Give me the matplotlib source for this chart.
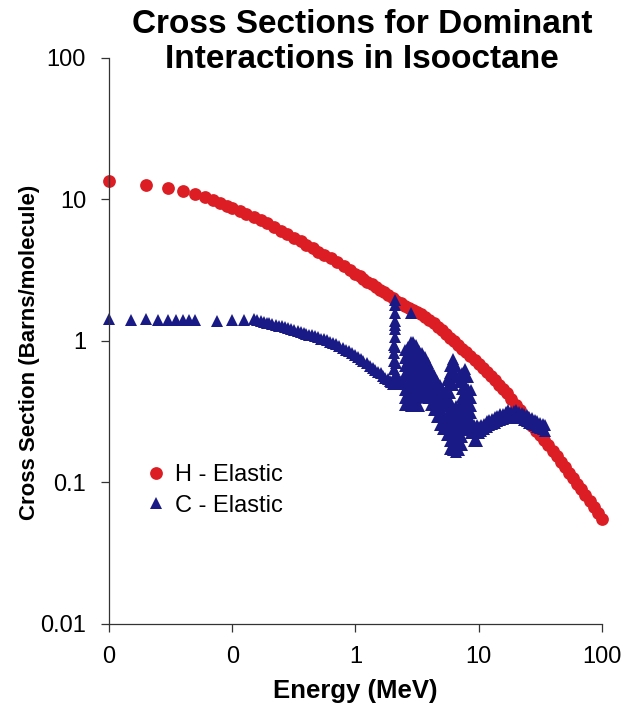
import matplotlib
matplotlib.use('Agg')
import matplotlib.pyplot as plt
from matplotlib.ticker import NullLocator

plt.rcParams['font.family'] = ['Liberation Sans', 'DejaVu Sans']

# H elastic cross section (barns/molecule) vs neutron energy (MeV)
h_energy = [0.01, 0.02, 0.03, 0.04, 0.05, 0.06, 0.07, 0.08, 0.09, 0.10,
            0.115, 0.13, 0.15, 0.17, 0.19, 0.22, 0.25, 0.28, 0.32, 0.36,
            0.40, 0.45, 0.50, 0.56, 0.63, 0.71, 0.80, 0.90,
            1.0, 1.08, 1.16, 1.25, 1.35, 1.46, 1.58, 1.70, 1.84, 2.0,
            2.15, 2.32, 2.5, 2.7, 2.92, 3.15, 3.4, 3.68, 3.97, 4.3,
            4.64, 5.0, 5.4, 5.84, 6.3, 6.8, 7.35, 7.94, 8.57, 9.26,
            10, 10.8, 11.6, 12.5, 13.5, 14.6, 15.8, 17.0, 18.4, 20,
            21.5, 23.2, 25, 27, 29.2, 31.5, 34, 36.8, 39.7, 43,
            46.4, 50, 54, 58.4, 63, 68, 73.5, 79.4, 85.7, 92.6, 100]
h_xs = [13.5, 12.6, 12.0, 11.5, 10.9, 10.4, 9.87, 9.42, 9.06, 8.73,
        8.30, 7.96, 7.52, 7.13, 6.79, 6.37, 6.02, 5.73, 5.37, 5.05,
        4.78, 4.51, 4.29, 4.06, 3.84, 3.61, 3.38, 3.18,
        2.99, 2.87, 2.75, 2.63, 2.52, 2.41, 2.30, 2.21, 2.11, 2.01,
        1.93, 1.85, 1.78, 1.72, 1.65, 1.59, 1.54, 1.48, 1.41, 1.33,
        1.25, 1.19, 1.12, 1.055, 0.994, 0.936, 0.881, 0.830, 0.779, 0.731,
        0.686, 0.644, 0.607, 0.567, 0.529, 0.492, 0.458, 0.428, 0.390, 0.353,
        0.324, 0.296, 0.272, 0.252, 0.233, 0.216, 0.200, 0.184, 0.168, 0.153,
        0.140, 0.128, 0.117, 0.107, 0.0978, 0.0895, 0.0817, 0.0743, 0.0675, 0.0613, 0.0556]

# C elastic below 0.15 MeV (flat)
c_energy_flat = [0.01, 0.015, 0.02, 0.025, 0.03, 0.035, 0.04, 0.045, 0.05, 0.075,
                 0.1, 0.125]
c_xs_flat = [1.42, 1.41, 1.42, 1.41, 1.40, 1.41, 1.40, 1.40, 1.40, 1.39,
             1.40, 1.40]

# C elastic, smooth fall-off up to 2 MeV
c_energy_smooth = [0.15, 0.16, 0.17, 0.18, 0.19, 0.20, 0.21, 0.225, 0.24, 0.255,
                   0.27, 0.285, 0.30, 0.32, 0.34, 0.36, 0.38, 0.40, 0.42, 0.445,
                   0.47, 0.50, 0.53, 0.56, 0.59, 0.625, 0.66, 0.70, 0.74, 0.785,
                   0.83, 0.88, 0.93, 0.985, 1.04, 1.10, 1.16, 1.23, 1.30, 1.375,
                   1.45, 1.525, 1.60, 1.675, 1.75, 1.825, 1.90, 1.95, 2.00]
c_xs_smooth = [1.44, 1.40, 1.38, 1.37, 1.35, 1.34, 1.32, 1.30, 1.28, 1.27,
               1.25, 1.23, 1.21, 1.19, 1.17, 1.155, 1.14, 1.125, 1.11, 1.095,
               1.08, 1.06, 1.04, 1.025, 1.01, 0.99, 0.97, 0.945, 0.92, 0.895,
               0.87, 0.845, 0.82, 0.795, 0.77, 0.745, 0.72, 0.695, 0.67, 0.645,
               0.62, 0.605, 0.59, 0.57, 0.55, 0.535, 0.52, 0.51, 0.50]

# C elastic, 2.08 MeV resonance
c_energy_2mev = [2.05, 2.06, 2.065, 2.07, 2.073, 2.076, 2.078, 2.08, 2.082, 2.084,
                 2.086, 2.09, 2.10, 2.12, 2.15, 2.20, 2.30, 2.40]
c_xs_2mev = [0.55, 0.63, 0.72, 0.82, 0.93, 1.06, 1.21, 1.38, 1.57, 1.79,
             1.95, 1.30, 0.90, 0.70, 0.58, 0.54, 0.52, 0.51]

# C elastic, overlapping resonances 2.4 - 10 MeV: one energy, several values
c_energy_res = [2.43, 2.52, 2.67, 2.82, 2.93, 3.10, 3.27, 3.46, 3.66, 3.87,
                4.10, 4.33, 4.58, 4.85, 5.13, 5.53, 5.85, 6.18, 6.54, 6.92,
                7.31, 7.73, 8.18, 8.65, 9.15, 9.68]
c_xs_res = [
    [0.53, 0.50],
    [0.864, 0.758, 0.668, 0.584, 0.513, 0.451, 0.396, 0.353],
    [0.353, 0.402, 0.458, 0.522, 0.594, 0.676, 0.771, 0.907],
    [1.58, 0.984, 0.850, 0.747, 0.634, 0.557, 0.489, 0.429, 0.377, 0.347],
    [0.347, 0.396, 0.458, 0.522, 0.594, 0.699, 0.823, 0.984],
    [0.937, 0.800, 0.676, 0.584, 0.513, 0.451, 0.396, 0.347],
    [0.347, 0.402, 0.458, 0.522, 0.594, 0.699, 0.850],
    [0.823, 0.699, 0.594, 0.522, 0.458, 0.415],
    [0.415, 0.458, 0.513, 0.584, 0.666, 0.771],
    [0.699, 0.594, 0.513, 0.451, 0.396],
    [0.353, 0.402, 0.458, 0.530, 0.624],
    [0.575, 0.489, 0.429, 0.377, 0.325],
    [0.290, 0.331, 0.377, 0.429, 0.522],
    [0.489, 0.429, 0.377, 0.331, 0.290, 0.255],
    [0.239, 0.272, 0.310, 0.347, 0.402, 0.451],
    [0.530, 0.458, 0.396, 0.347, 0.290, 0.255, 0.217],
    [0.172, 0.196, 0.224, 0.255, 0.290, 0.331, 0.377, 0.429, 0.513, 0.594, 0.666],
    [0.747, 0.634, 0.557, 0.489, 0.331, 0.290, 0.255, 0.224, 0.196, 0.170],
    [0.163, 0.184, 0.210, 0.239, 0.272, 0.310, 0.347, 0.557, 0.666],
    [0.575, 0.513, 0.347, 0.310, 0.272, 0.239, 0.210, 0.184, 0.170],
    [0.184, 0.210, 0.239, 0.272, 0.310, 0.353, 0.402, 0.458, 0.522, 0.594],
    [0.634, 0.557, 0.489, 0.429, 0.377, 0.331, 0.290, 0.255, 0.236],
    [0.245, 0.272, 0.310, 0.353, 0.402, 0.458, 0.557],
    [0.451, 0.396, 0.347, 0.310, 0.272, 0.239, 0.224],
    [0.196, 0.224, 0.255],
    [0.255, 0.224, 0.196],
]

# C elastic, high energy tail (upper and lower edge of the scatter)
c_energy_tail = [10.0, 10.5, 11.0, 11.6, 12.2, 12.8, 13.5, 14.2, 15.0, 15.8,
                 16.6, 17.4, 18.3, 19.2, 20.2, 21.2, 22.3, 23.4, 24.6, 25.8,
                 27.1, 28.5, 29.9, 31.4, 33.0, 34.5]
c_xs_tail_hi = [0.246, 0.253, 0.261, 0.270, 0.277, 0.282, 0.291, 0.296, 0.303, 0.306,
                0.314, 0.324, 0.314, 0.319, 0.324, 0.314, 0.311, 0.303, 0.298, 0.291,
                0.284, 0.277, 0.272, 0.263, 0.259, 0.254]
c_xs_tail_lo = [0.224, 0.231, 0.239, 0.246, 0.253, 0.258, 0.265, 0.270, 0.277, 0.280,
                0.287, 0.296, 0.287, 0.291, 0.296, 0.287, 0.285, 0.277, 0.272, 0.265,
                0.260, 0.253, 0.248, 0.241, 0.237, 0.232]

c_energy = c_energy_flat + c_energy_smooth + c_energy_2mev
c_xs = c_xs_flat + c_xs_smooth + c_xs_2mev
for e, values in zip(c_energy_res, c_xs_res):
    c_energy += [e] * len(values)
    c_xs += values
for e, hi, lo in zip(c_energy_tail, c_xs_tail_hi, c_xs_tail_lo):
    c_energy += [e, e]
    c_xs += [hi, lo]

x_ticks = [0.01, 0.1, 1, 10, 100]
x_tick_labels = ['0', '0', '1', '10', '100']
y_ticks = [0.01, 0.1, 1, 10, 100]
y_tick_labels = ['0.01', '0.1', '1', '10', '100']

red = '#dc1e24'
blue = '#1a1a86'

fig = plt.figure(figsize=(6.31, 7.09), dpi=100)
ax = fig.add_axes([0.1727, 0.1199, 0.7813, 0.7983])

ax.plot(h_energy, h_xs, 'o', ms=9.2, color=red, mew=0, clip_on=False,
        label='H - Elastic')
ax.plot(c_energy, c_xs, '^', ms=8.0, color=blue, mew=0, clip_on=False,
        label='C - Elastic')

ax.set_xscale('log')
ax.set_yscale('log')
ax.set_xlim(0.01, 100)
ax.set_ylim(0.01, 100)
ax.set_xticks(x_ticks)
ax.set_xticklabels(x_tick_labels)
ax.set_yticks(y_ticks)
ax.set_yticklabels(y_tick_labels)
ax.xaxis.set_minor_locator(NullLocator())
ax.yaxis.set_minor_locator(NullLocator())

for side in ['top', 'right']:
    ax.spines[side].set_visible(False)
for side in ['left', 'bottom']:
    ax.spines[side].set_linewidth(0.9)
    ax.spines[side].set_color('#333333')

ax.tick_params(axis='both', direction='out', length=5.5, width=0.9,
               color='#333333', labelsize=17)
ax.tick_params(axis='x', pad=10)
ax.tick_params(axis='y', pad=11)

ax.set_xlabel('Energy (MeV)', fontsize=18.5, fontweight='bold', labelpad=8)
fig.text(30 / 631, 1 - 352 / 709, 'Cross Section (Barns/molecule)',
         rotation=90, ha='center', va='center', fontsize=16, fontweight='bold')

fig.text(362 / 631, 1 - 42 / 709,
         'Cross Sections for Dominant\nInteractions in Isooctane',
         ha='center', va='center', fontsize=24, fontweight='bold',
         linespacing=1.18)

ax.legend(loc='center left', bbox_to_anchor=(0.071, 0.236), frameon=False,
          fontsize=17, handlelength=1.0, handletextpad=0.3, borderpad=0,
          borderaxespad=0, labelspacing=0.35)

fig.savefig('out.png', dpi=100)
